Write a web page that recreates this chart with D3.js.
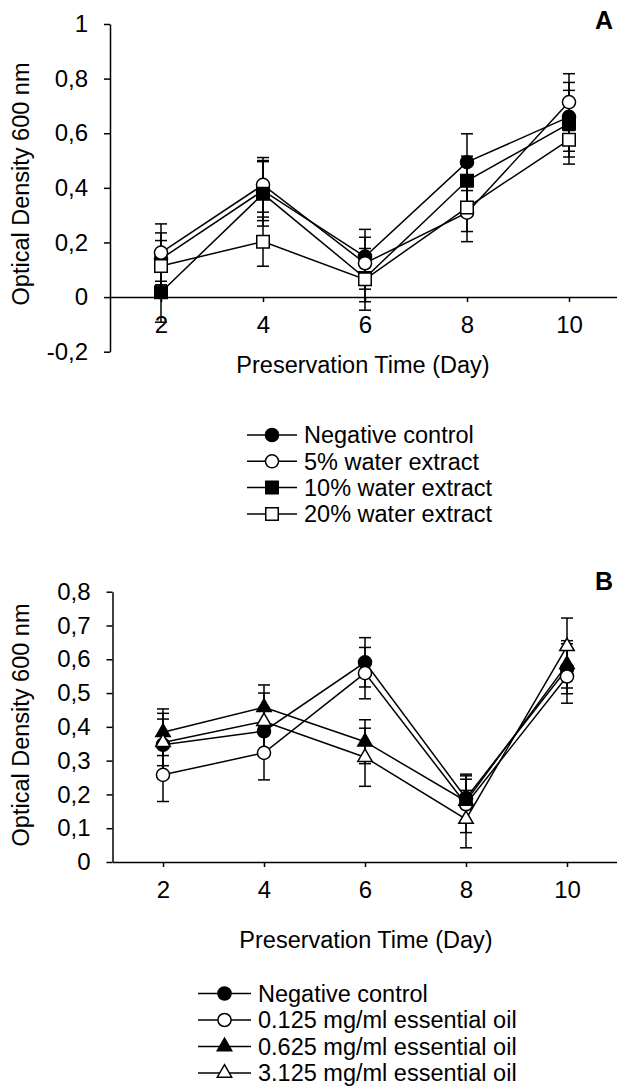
<!DOCTYPE html>
<html lang="en">
<head>
<meta charset="utf-8">
<title>Optical density</title>
<script src="https://cdn.jsdelivr.net/npm/d3@7"></script>
<style>
  body { margin: 0; background: #fff; }
  text { font-family: "Liberation Sans", Arial, sans-serif; fill: #000; }
</style>
</head>
<body>
<script>
// ---- data ----
var days = [2, 4, 6, 8, 10];

// panel A
var seriesA = ["Negative control", "5% water extract", "10% water extract", "20% water extract"];
var negA   = [0.140, 0.390, 0.148, 0.494, 0.660];
var w5A    = [0.163, 0.411, 0.124, 0.309, 0.714];
var w10A   = [0.018, 0.378, 0.070, 0.426, 0.635];
var w20A   = [0.114, 0.203, 0.065, 0.328, 0.576];
var negAerr = [0.095, 0.110, 0.100, 0.104, 0.126];
var w5Aerr  = [0.105, 0.100, 0.095, 0.106, 0.104];
var w10Aerr = [0.110, 0.118, 0.087, 0.090, 0.122];
var w20Aerr = [0.093, 0.090, 0.113, 0.088, 0.089];
var yTicksA = [-0.2, 0, 0.2, 0.4, 0.6, 0.8, 1];

// panel B
var seriesB = ["Negative control", "0.125 mg/ml essential oil", "0.625 mg/ml essential oil", "3.125 mg/ml essential oil"];
var negB   = [0.347, 0.387, 0.591, 0.189, 0.572];
var o125B  = [0.258, 0.323, 0.559, 0.171, 0.549];
var o625B  = [0.384, 0.458, 0.356, 0.180, 0.585];
var o3125B = [0.354, 0.416, 0.310, 0.127, 0.638];
var negBerr   = [0.093, 0.070, 0.073, 0.071, 0.074];
var o125Berr  = [0.079, 0.080, 0.076, 0.084, 0.079];
var o625Berr  = [0.069, 0.066, 0.065, 0.065, 0.070];
var o3125Berr = [0.069, 0.084, 0.086, 0.085, 0.084];
var yTicksB = [0, 0.1, 0.2, 0.3, 0.4, 0.5, 0.6, 0.7, 0.8];

var W = 617, H = 1090;
var svg = d3.select("body").append("svg")
  .attr("width", W).attr("height", H);

var FS = "23.5px";   // titles + legend
var TFS = "24px";    // tick labels

function fmt(d) { return String(+d.toFixed(1)).replace(".", ","); }

function drawPanel(o) {
  var x = d3.scaleLinear().domain([1, 11]).range([o.left, o.right]);
  var y = d3.scaleLinear().domain(o.yDomain).range([o.bottom, o.top]);
  var g = svg.append("g");

  // y axis
  g.append("g")
    .attr("transform", "translate(" + o.left + ",0)")
    .call(d3.axisLeft(y).tickValues(o.yTicks).tickFormat(fmt)
      .tickSize(6).tickSizeOuter(0).tickPadding(16))
    .call(function(a) {
      a.selectAll("path, line").attr("stroke", "#000").attr("stroke-width", 1.5);
      a.selectAll("text").style("font-size", TFS).attr("font-family", null);
    });

  // x axis on the zero line
  g.append("g")
    .attr("transform", "translate(0," + y(0) + ")")
    .call(d3.axisBottom(x).tickValues(days).tickFormat(d3.format("d"))
      .tickSize(5).tickSizeOuter(0).tickPadding(14))
    .call(function(a) {
      a.selectAll("path, line").attr("stroke", "#000").attr("stroke-width", 1.5);
      a.selectAll("text").style("font-size", TFS).attr("font-family", null);
    });

  // axis titles
  g.append("text")
    .attr("transform", "translate(" + o.yLabelX + "," + o.yLabelY + ") rotate(-90)")
    .attr("text-anchor", "middle")
    .style("font-size", FS)
    .text("Optical Density 600 nm");
  g.append("text")
    .attr("x", o.xLabelX).attr("y", o.xLabelY)
    .attr("text-anchor", "middle")
    .style("font-size", FS)
    .text("Preservation Time (Day)");

  // panel letter
  g.append("text")
    .attr("x", 604).attr("y", o.letterY)
    .attr("text-anchor", "middle")
    .style("font-size", "25px").style("font-weight", "bold")
    .text(o.letter);

  var cap = 6;
  // error bars
  o.series.forEach(function(s) {
    var eb = g.append("g").attr("stroke", "#000").attr("stroke-width", 1.5);
    days.forEach(function(d, i) {
      var lo = y(s.vals[i] - s.err[i]), hi = y(s.vals[i] + s.err[i]), cx = x(d);
      eb.append("line").attr("x1", cx).attr("x2", cx).attr("y1", lo).attr("y2", hi);
      eb.append("line").attr("x1", cx - cap).attr("x2", cx + cap).attr("y1", lo).attr("y2", lo);
      eb.append("line").attr("x1", cx - cap).attr("x2", cx + cap).attr("y1", hi).attr("y2", hi);
    });
  });

  // lines
  var line = d3.line().x(function(d, i) { return x(days[i]); }).y(function(d) { return y(d); });
  o.series.forEach(function(s) {
    g.append("path").datum(s.vals)
      .attr("d", line).attr("fill", "none")
      .attr("stroke", "#000").attr("stroke-width", 1.5);
  });

  // markers
  o.series.forEach(function(s) {
    g.selectAll(null).data(s.vals).enter().append("path")
      .attr("transform", function(d, i) { return "translate(" + x(days[i]) + "," + y(d) + ")"; })
      .attr("d", d3.symbol().type(s.shape).size(s.size))
      .attr("fill", s.fill).attr("stroke", "#000").attr("stroke-width", 1.5);
  });

  // legend
  o.series.forEach(function(s, i) {
    var ly = o.legY + i * o.legStep;
    var lg = g.append("g");
    lg.append("line").attr("x1", o.legX1).attr("x2", o.legX2).attr("y1", ly).attr("y2", ly)
      .attr("stroke", "#000").attr("stroke-width", 1.5);
    lg.append("path")
      .attr("transform", "translate(" + ((o.legX1 + o.legX2) / 2) + "," + ly + ")")
      .attr("d", d3.symbol().type(s.shape).size(s.size))
      .attr("fill", s.fill).attr("stroke", "#000").attr("stroke-width", 1.5);
    lg.append("text")
      .attr("x", o.legX2 + 7).attr("y", ly).attr("dy", "0.36em")
      .style("font-size", FS)
      .text(s.name);
  });
}

var circ = d3.symbolCircle, sq = d3.symbolSquare, tri = d3.symbolTriangle;

drawPanel({
  left: 110, right: 620, top: 24, bottom: 351.7, yDomain: [-0.2, 1], yTicks: yTicksA,
  yLabelX: 29, yLabelY: 184, xLabelX: 363, xLabelY: 373, letter: "A", letterY: 29,
  legX1: 247, legX2: 297, legY: 435, legStep: 26.3,
  series: [
    { name: seriesA[0], vals: negA, err: negAerr, shape: circ, size: 135, fill: "#000" },
    { name: seriesA[1], vals: w5A,  err: w5Aerr,  shape: circ, size: 135, fill: "#fff" },
    { name: seriesA[2], vals: w10A, err: w10Aerr, shape: sq,   size: 156, fill: "#000" },
    { name: seriesA[3], vals: w20A, err: w20Aerr, shape: sq,   size: 156, fill: "#fff" }
  ]
});

drawPanel({
  left: 112.5, right: 617.5, top: 591.7, bottom: 862, yDomain: [0, 0.8], yTicks: yTicksB,
  yLabelX: 29, yLabelY: 725, xLabelX: 366, xLabelY: 948, letter: "B", letterY: 590,
  legX1: 198, legX2: 251, legY: 993.5, legStep: 26.5,
  series: [
    { name: seriesB[0], vals: negB,   err: negBerr,   shape: circ, size: 135, fill: "#000" },
    { name: seriesB[1], vals: o125B,  err: o125Berr,  shape: circ, size: 135, fill: "#fff" },
    { name: seriesB[2], vals: o625B,  err: o625Berr,  shape: tri,  size: 90,  fill: "#000" },
    { name: seriesB[3], vals: o3125B, err: o3125Berr, shape: tri,  size: 90,  fill: "#fff" }
  ]
});
</script>
</body>
</html>
